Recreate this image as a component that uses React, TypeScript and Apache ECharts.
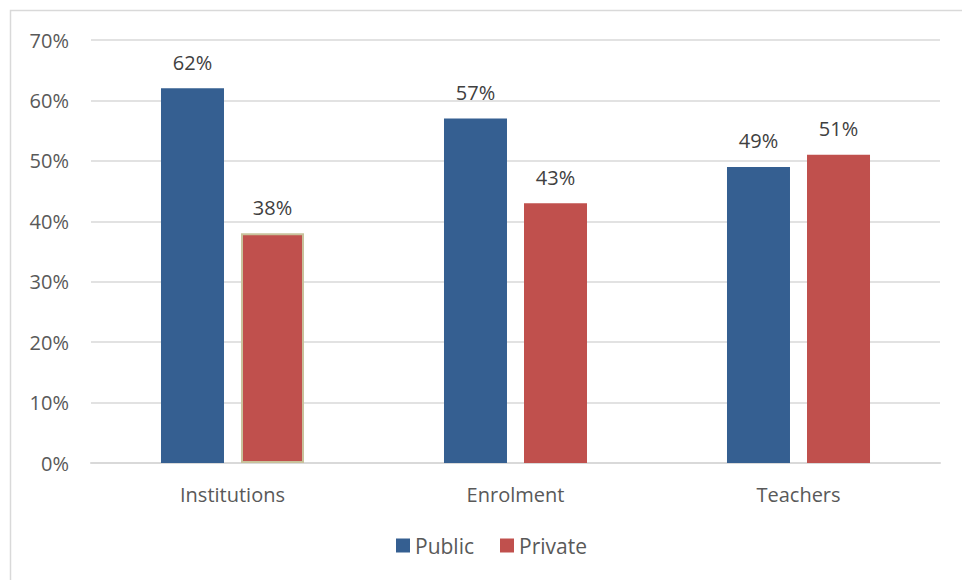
import React, { useEffect, useRef } from "react";
import * as echarts from "echarts";

const categories = ["Institutions", "Enrolment", "Teachers"];
const publicValues = [62, 57, 49];
const privateValues = [38, 43, 51];
const seriesNames = ["Public", "Private"];

export default function App() {
  const ref = useRef<HTMLDivElement>(null);
  useEffect(() => {
    const chart = echarts.init(ref.current!, null, { renderer: "svg" });
    const font = "Open Sans, Noto Sans, sans-serif";
    const labelStyle = {
      show: true,
      position: "top",
      distance: 16,
      formatter: "{c}%",
      color: "#404040",
      fontSize: 20,
      fontFamily: font,
    };
    chart.setOption({
      animation: false,
      backgroundColor: "#ffffff",
      graphic: [
        {
          type: "rect",
          shape: { x: 10.5, y: 10.5, width: 1000, height: 1000 },
          style: { fill: "none", stroke: "#d9d9d9", lineWidth: 1.5 },
          silent: true,
        },
      ],
      grid: { left: 91, right: 22, top: 40, bottom: 117, containLabel: false },
      legend: {
        bottom: 24,
        left: 396,
        padding: 0,
        itemWidth: 14,
        itemHeight: 14,
        itemGap: 26,
        icon: "rect",
        textStyle: { color: "#595959", fontSize: 21, fontFamily: font },
        data: seriesNames,
      },
      xAxis: {
        type: "category",
        data: categories,
        axisLine: { lineStyle: { color: "#d9d9d9", width: 2 } },
        axisTick: { show: false },
        axisLabel: { color: "#595959", fontSize: 20, fontFamily: font, margin: 21 },
      },
      yAxis: {
        type: "value",
        min: 0,
        max: 70,
        interval: 10,
        axisLabel: { formatter: "{value}%", color: "#595959", fontSize: 20, fontFamily: font, margin: 22 },
        axisLine: { show: false },
        axisTick: { show: false },
        splitLine: { lineStyle: { color: "#d9d9d9", width: 1.5 } },
      },
      series: [
        {
          name: seriesNames[0],
          type: "bar",
          data: publicValues,
          barWidth: 63,
          barGap: "27%",
          itemStyle: { color: "#355f91" },
          label: labelStyle,
        },
        {
          name: seriesNames[1],
          type: "bar",
          data: privateValues.map((v, i) =>
            i === 0
              ? { value: v, itemStyle: { borderColor: "#c8c29c", borderWidth: 2 } }
              : v
          ),
          barWidth: 63,
          itemStyle: { color: "#c0504d" },
          label: labelStyle,
        },
      ],
    });
    return () => chart.dispose();
  }, []);
  return (
    <div
      ref={ref}
      style={{ position: "absolute", left: 0, top: 0, width: 962, height: 580 }}
    />
  );
}
